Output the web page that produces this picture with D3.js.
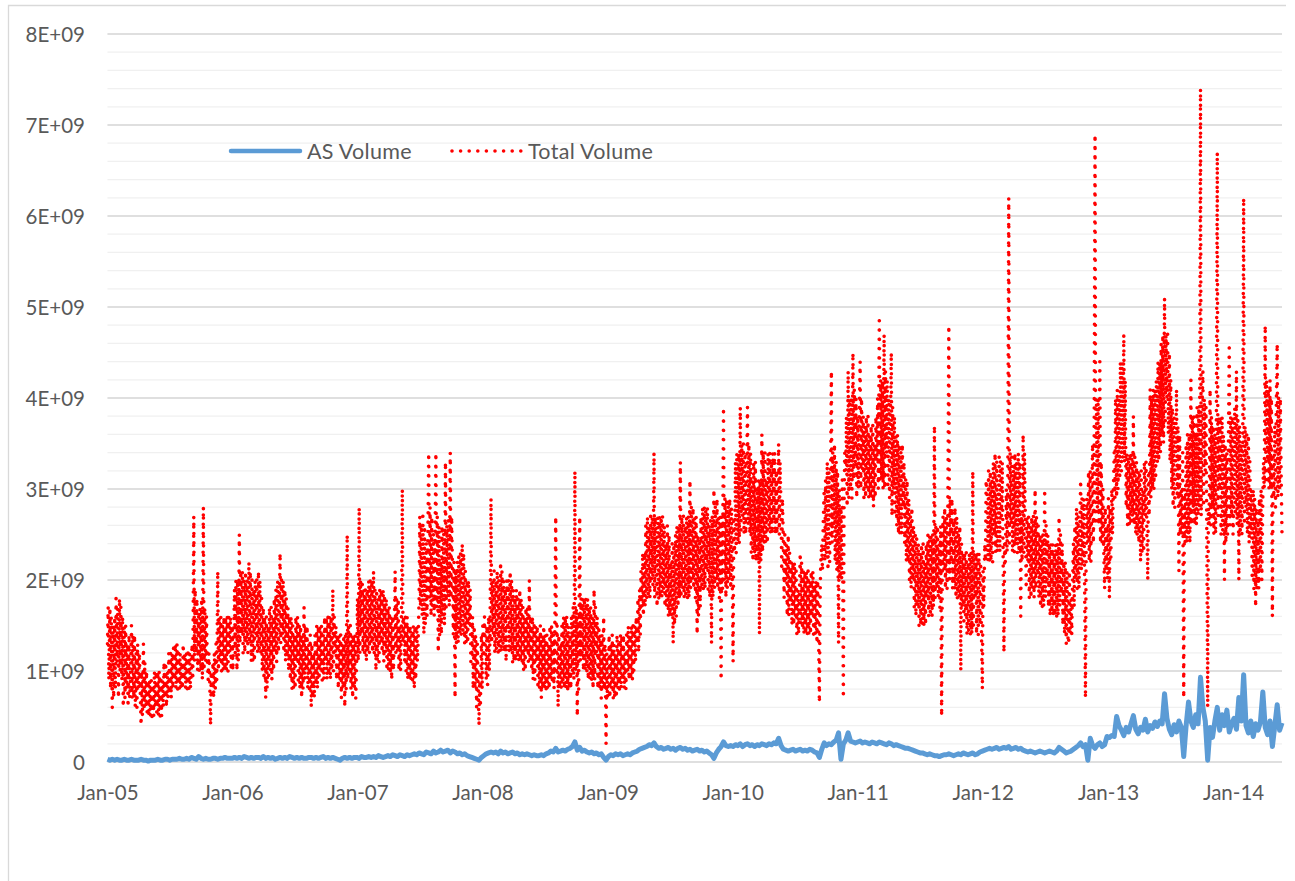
<!DOCTYPE html>
<html>
<head>
<meta charset="utf-8">
<script src="https://cdn.jsdelivr.net/npm/d3@7"></script>
<style>
  body { margin: 0; background: #ffffff; }
  svg { display: block; }
  .axis text { font-family: Lato, "Open Sans", sans-serif; font-size: 20.5px; fill: #595959; }
  .legend text { font-family: Lato, "Open Sans", sans-serif; font-size: 21.5px; letter-spacing: 0.3px; fill: #595959; }
</style>
</head>
<body>
<div id="chart"></div>
<script>
// samples: Monday, Wednesday, Friday of each week, Jan 2005 -> late May 2014
const firstWeek = new Date(2005, 0, 3);
const yTicks = [0, 1e9, 2e9, 3e9, 4e9, 5e9, 6e9, 7e9, 8e9];
const tickYears = [2005, 2006, 2007, 2008, 2009, 2010, 2011, 2012, 2013, 2014];
const seriesNames = ["AS Volume", "Total Volume"];

// Total Volume, units of 1E+08 -- Mondays
const totalMonE8 = [
  13, 17, 6, 16, 11, 18, 9, 15, 8, 14,
  15, 7, 12, 8, 4, 13, 6, 9, 5, 8,
  6, 10, 5, 9, 7, 10, 8, 12, 9, 13,
  8, 11, 9, 12, 8, 10, 27, 12, 16, 10,
  28, 11, 9, 4, 11, 8, 21, 11, 15, 10,
  16, 12, 15, 19, 10, 25, 14, 20, 13, 22,
  11, 19, 14, 21, 12, 17, 7, 15, 10, 16,
  12, 20, 23, 14, 19, 12, 16, 8, 14, 11,
  15, 7, 17, 10, 13, 6, 12, 9, 15, 10,
  14, 11, 16, 9, 19, 12, 14, 9, 13, 6,
  25, 10, 14, 8, 12, 28, 14, 19, 11, 20,
  13, 21, 10, 18, 13, 19, 12, 17, 10, 16,
  21, 12, 15, 30, 11, 16, 9, 14, 8, 15,
  18, 26, 14, 24, 34, 16, 25, 34, 12, 22,
  16, 33, 18, 34, 20, 7, 22, 14, 24, 13,
  20, 15, 12, 15, 6, 4, 14, 12, 9, 16,
  29, 14, 20, 12, 22, 13, 19, 15, 21, 11,
  18, 12, 19, 11, 16, 12, 20, 10, 15, 11,
  14, 7, 15, 8, 13, 9, 14, 27, 6, 13,
  9, 16, 8, 14, 10, 32, 5, 27, 12, 18,
  10, 17, 9, 19, 12, 15, 7, 16, 2, 10,
  13, 7, 12, 8, 14, 9, 12, 10, 14, 9,
  15, 13, 19, 17, 23, 18, 26, 20, 34, 22,
  18, 27, 19, 24, 16, 22, 13, 25, 17, 33,
  19, 26, 18, 31, 20, 27, 14, 24, 19, 28,
  21, 26, 13, 30, 20, 27, 9, 39, 18, 28,
  19, 11, 33, 24, 39, 27, 34, 39, 25, 31,
  23, 30, 14, 36, 24, 31, 26, 33, 27, 32,
  35, 28, 24, 20, 25, 18, 22, 16, 19, 23,
  15, 21, 14, 20, 16, 19, 13, 6.5, 24, 30,
  23, 32, 43, 26, 33, 13, 28, 7, 32, 43,
  30, 45, 33, 38, 44, 32, 37, 30, 36, 29,
  35, 33, 49, 31, 47, 34, 40, 45, 30, 36,
  25, 34, 28, 31, 22, 27, 20, 25, 17, 23,
  15, 22, 18, 25, 16, 37, 19, 24, 5, 21,
  27, 48, 22, 26, 18, 25, 10, 23, 16, 22,
  14, 32, 18, 23, 15, 8, 24, 29, 22, 31,
  25, 33, 34, 27, 12, 30, 62, 26, 32, 24,
  34, 16, 36, 25, 22, 26, 19, 30, 21, 25,
  17, 30, 20, 24, 17, 23, 16, 27, 19, 22,
  13, 13, 18, 24, 20, 27, 31, 22, 7, 24,
  32, 35, 69, 28, 44, 24, 19, 26, 18, 30,
  34, 29, 40, 32, 47, 28, 33, 26, 38, 25,
  32, 22, 30, 27, 20, 41, 30, 41, 33, 44,
  36, 51, 40, 45, 30, 38, 41, 21, 30, 7,
  35, 25, 42, 28, 36, 27, 74, 43, 32, 6,
  41, 28, 36, 67, 30, 38, 20, 34, 46, 27,
  30, 43, 20, 35, 62, 28, 36, 25, 30, 17,
  26, 21, 29, 48, 33, 42, 16, 37, 46, 30, 25
];

// Wednesdays
const totalWedE8 = [
  17, 8, 15, 8, 17, 10, 16, 7, 13, 7,
  7, 14, 6, 12, 10, 6, 10, 5, 9, 5,
  10, 5, 9, 6, 11, 7, 12, 8, 13, 8,
  12, 8, 12, 8, 12, 13, 11, 18, 10, 18,
  10, 16, 12, 10, 7, 13, 10, 16, 10, 16,
  10, 16, 10, 12, 20, 13, 21, 12, 20, 13,
  20, 11, 20, 12, 18, 9, 16, 9, 17, 10,
  19, 12, 13, 20, 11, 17, 9, 15, 8, 16,
  8, 14, 9, 15, 8, 13, 7, 15, 9, 15,
  9, 16, 10, 16, 10, 15, 8, 14, 8, 14,
  9, 15, 7, 14, 18, 12, 20, 12, 19, 12,
  20, 12, 19, 11, 19, 11, 18, 10, 16, 10,
  12, 18, 10, 13, 16, 9, 15, 9, 15, 11,
  27, 16, 26, 16, 18, 27, 16, 17, 26, 14,
  25, 17, 27, 18, 14, 21, 13, 23, 14, 21,
  13, 19, 16, 8, 13, 10, 8, 16, 15, 10,
  13, 21, 12, 20, 12, 20, 11, 20, 12, 19,
  11, 18, 11, 17, 10, 17, 11, 16, 9, 15,
  8, 14, 8, 14, 8, 15, 8, 10, 14, 8,
  16, 8, 15, 8, 17, 10, 16, 11, 18, 10,
  18, 9, 16, 9, 16, 8, 14, 8, 12, 14,
  8, 13, 7, 13, 8, 14, 8, 15, 9, 15,
  11, 18, 14, 23, 17, 27, 18, 27, 18, 17,
  27, 18, 26, 17, 25, 16, 24, 16, 26, 18,
  27, 18, 27, 19, 28, 18, 25, 17, 28, 19,
  28, 18, 27, 19, 29, 18, 27, 20, 29, 20,
  28, 27, 23, 34, 25, 35, 25, 26, 34, 22,
  33, 22, 31, 23, 34, 24, 34, 25, 34, 25,
  25, 21, 18, 24, 16, 22, 15, 21, 14, 15,
  21, 14, 21, 14, 21, 14, 20, 18, 21, 22,
  33, 22, 24, 35, 21, 30, 20, 28, 38, 29,
  40, 31, 40, 30, 30, 38, 29, 38, 29, 37,
  29, 40, 31, 42, 30, 42, 29, 27, 38, 26,
  35, 25, 33, 22, 29, 19, 26, 16, 24, 15,
  24, 15, 25, 16, 25, 18, 26, 17, 22, 28,
  19, 20, 29, 19, 27, 18, 24, 15, 23, 14,
  23, 15, 23, 14, 22, 21, 22, 22, 32, 22,
  34, 23, 23, 33, 24, 23, 24, 34, 23, 33,
  23, 27, 23, 19, 27, 18, 27, 19, 26, 17,
  25, 18, 25, 16, 24, 16, 24, 17, 24, 14,
  21, 21, 14, 17, 28, 19, 21, 29, 23, 32,
  22, 24, 26, 40, 24, 30, 28, 20, 28, 25,
  29, 41, 31, 44, 33, 34, 26, 34, 26, 33,
  24, 32, 23, 33, 32, 29, 41, 31, 44, 34,
  47, 37, 47, 33, 39, 28, 29, 36, 25, 30,
  24, 36, 26, 38, 26, 39, 27, 28, 39, 28,
  26, 37, 25, 27, 38, 25, 35, 25, 26, 38,
  39, 26, 37, 25, 26, 36, 24, 30, 19, 28,
  19, 30, 33, 31, 41, 30, 34, 28, 29, 40
];

// Fridays
const totalFriE8 = [
  9, 16, 7, 18, 7, 17, 6, 15, 6, 9,
  14, 6, 13, 9, 5, 11, 5, 9, 5, 10,
  5, 10, 5, 11, 6, 12, 7, 13, 8, 12,
  8, 13, 8, 12, 8, 9, 19, 10, 17, 9,
  17, 12, 10, 7, 12, 9, 16, 10, 16, 10,
  16, 10, 13, 20, 11, 21, 12, 21, 12, 21,
  11, 20, 12, 20, 10, 16, 8, 17, 9, 18,
  11, 15, 20, 12, 18, 10, 16, 8, 16, 9,
  15, 8, 15, 8, 14, 7, 14, 8, 15, 9,
  16, 9, 16, 10, 16, 9, 14, 7, 14, 8,
  15, 8, 14, 7, 11, 20, 12, 19, 12, 20,
  12, 19, 11, 19, 12, 18, 10, 17, 9, 13,
  18, 10, 14, 16, 10, 15, 9, 15, 9, 13,
  17, 27, 15, 22, 28, 17, 22, 27, 14, 26,
  15, 26, 17, 27, 22, 13, 23, 14, 23, 13,
  20, 11, 8, 14, 9, 6, 15, 13, 8, 14,
  20, 12, 21, 12, 21, 12, 20, 12, 20, 11,
  19, 11, 18, 10, 17, 11, 16, 9, 15, 8,
  15, 8, 14, 8, 15, 9, 13, 15, 8, 15,
  8, 16, 8, 16, 9, 17, 8, 18, 10, 18,
  9, 17, 8, 17, 8, 14, 8, 13, 7, 7,
  14, 7, 14, 8, 14, 8, 14, 9, 15, 10,
  16, 12, 21, 16, 26, 18, 27, 19, 27, 27,
  18, 27, 17, 26, 16, 24, 15, 26, 18, 27,
  18, 27, 18, 28, 19, 27, 16, 27, 19, 28,
  19, 27, 18, 28, 19, 27, 19, 29, 19, 29,
  22, 23, 34, 24, 35, 25, 30, 35, 23, 33,
  22, 31, 22, 34, 24, 34, 25, 34, 25, 29,
  33, 29, 25, 16, 23, 15, 22, 14, 17, 22,
  14, 21, 14, 21, 14, 20, 16, 22, 26, 31,
  21, 28, 34, 22, 32, 20, 31, 34, 28, 40,
  29, 41, 29, 37, 40, 29, 38, 29, 37, 28,
  38, 30, 42, 30, 43, 30, 36, 39, 27, 36,
  25, 35, 24, 31, 20, 28, 17, 25, 15, 24,
  15, 24, 16, 25, 17, 26, 18, 26, 27, 19,
  27, 29, 19, 28, 18, 26, 17, 23, 14, 23,
  14, 23, 14, 23, 15, 17, 31, 32, 22, 33,
  23, 27, 33, 25, 22, 28, 34, 23, 34, 23,
  33, 22, 34, 27, 18, 27, 18, 27, 18, 25,
  17, 26, 17, 24, 16, 24, 16, 25, 15, 22,
  14, 14, 19, 26, 19, 24, 29, 22, 29, 22,
  28, 30, 40, 26, 33, 24, 21, 29, 22, 29,
  40, 30, 44, 33, 42, 26, 34, 27, 34, 25,
  32, 23, 33, 26, 27, 40, 30, 42, 33, 46,
  35, 47, 36, 42, 28, 33, 37, 25, 34, 24,
  36, 24, 38, 26, 39, 28, 38, 40, 27, 26,
  38, 25, 34, 38, 25, 36, 24, 33, 38, 25,
  27, 38, 25, 32, 37, 25, 33, 20, 29, 19,
  29, 20, 30, 42, 30, 40, 29, 38, 40, 33
];

// AS Volume, units of 1E+07 -- Mondays
const asVolumeE7 = [
  3, 2, 3, 2, 3, 2, 2, 3, 2, 2,
  3, 2, 2, 2, 3, 2, 2, 1, 2, 2,
  2, 3, 2, 2, 3, 3, 2, 3, 3, 3,
  4, 3, 3, 4, 3, 5, 4, 3, 6, 4,
  3, 4, 3, 3, 4, 4, 3, 4, 4, 5,
  4, 4, 4, 5, 4, 5, 4, 6, 5, 4,
  5, 4, 5, 5, 4, 6, 4, 5, 4, 5,
  3, 4, 5, 4, 5, 4, 6, 5, 4, 5,
  4, 5, 4, 4, 5, 5, 4, 5, 4, 5,
  6, 4, 5, 4, 5, 4, 3, 2, 4, 5,
  4, 5, 4, 5, 5, 4, 6, 5, 5, 6,
  5, 6, 5, 7, 6, 5, 6, 7, 6, 8,
  7, 6, 8, 7, 6, 8, 7, 8, 9, 8,
  10, 9, 8, 11, 10, 9, 12, 10, 11, 13,
  11, 12, 13, 10, 12, 11, 9, 10, 8, 9,
  7, 6, 5, 4, 3, 2, 5, 7, 9, 10,
  11, 10, 11, 9, 12, 10, 11, 9, 10, 11,
  9, 10, 8, 9, 8, 9, 8, 7, 8, 7,
  7, 8, 7, 9, 10, 12, 11, 15, 11, 12,
  13, 12, 14, 15, 17, 22, 13, 16, 12, 13,
  11, 10, 11, 9, 10, 8, 9, 5, 2, 6,
  8, 7, 9, 8, 9, 7, 8, 9, 8, 10,
  11, 12, 14, 15, 16, 17, 19, 18, 21, 17,
  15, 16, 14, 15, 16, 14, 15, 13, 15, 16,
  14, 15, 13, 14, 12, 13, 14, 12, 13, 11,
  12, 10, 8, 4, 10, 14, 17, 22, 18, 17,
  18, 17, 19, 18, 20, 17, 19, 20, 18, 19,
  17, 19, 18, 20, 19, 18, 20, 19, 21, 20,
  26, 18, 14, 13, 12, 13, 14, 12, 13, 14,
  12, 13, 12, 14, 13, 11, 10, 5, 14, 21,
  18, 20, 19, 22, 24, 32, 3, 20, 24, 32,
  23, 22, 21, 22, 23, 21, 22, 21, 20, 22,
  21, 20, 22, 21, 20, 19, 21, 20, 18, 19,
  18, 17, 16, 15, 15, 14, 13, 12, 11, 10,
  10, 9, 8, 9, 8, 7, 7, 6, 7, 8,
  8, 9, 8, 7, 8, 9, 8, 10, 9, 8,
  9, 10, 8, 9, 11, 12, 13, 14, 15, 14,
  15, 16, 14, 15, 16, 15, 17, 14, 15, 16,
  14, 15, 13, 12, 11, 12, 11, 10, 11, 12,
  11, 10, 11, 12, 11, 10, 12, 16, 14, 12,
  10, 11, 12, 14, 16, 18, 21, 17, 19, 2,
  26, 18, 15, 19, 21, 17, 19, 28, 27, 29,
  28, 50, 40, 35, 29, 38, 33, 42, 51, 36,
  31, 38, 35, 47, 33, 40, 37, 44, 39, 45,
  42, 75, 48, 36, 30, 41, 33, 45, 38, 6,
  40, 66, 45, 38, 52, 42, 93, 60, 45, 2,
  38, 27, 45, 60, 35, 52, 40, 57, 33, 42,
  48, 36, 71, 45, 96, 40, 32, 45, 28, 42,
  35, 44, 77, 38, 30, 45, 17, 40, 63, 35, 43
];

const width = 1295, height = 881;
const margin = { top: 34, right: 13, bottom: 119, left: 107.5 };

const svg = d3.select("#chart").append("svg")
  .attr("width", width)
  .attr("height", height);

// chart frame (left + top edge visible)
svg.append("path")
  .attr("d", `M8.5,${height} V5.5 H1286`)
  .attr("fill", "none")
  .attr("stroke", "#d9d9d9")
  .attr("stroke-width", 1.3);

const totalData = [];
totalMonE8.forEach((v, i) => {
  const monday = d3.timeDay.offset(firstWeek, 7 * i);
  totalData.push({ date: monday, value: v * 1e8 });
  if (i < totalWedE8.length) {
    totalData.push({ date: d3.timeDay.offset(monday, 2), value: totalWedE8[i] * 1e8 });
    totalData.push({ date: d3.timeDay.offset(monday, 4), value: totalFriE8[i] * 1e8 });
  }
});

const asData = asVolumeE7.map((v, i) => ({
  date: d3.timeDay.offset(firstWeek, 7 * i),
  value: v * 1e7
}));

const x = d3.scaleTime()
  .domain(d3.extent(totalData, d => d.date))
  .range([margin.left, width - margin.right]);

const y = d3.scaleLinear()
  .domain([0, 8e9])
  .range([height - margin.bottom, margin.top]);

// gridlines: minor every 2E+08, major every 1E+09
svg.append("g")
  .selectAll("line")
  .data(d3.range(0, 8e9 + 1, 2e8))
  .enter()
  .append("line")
  .attr("x1", margin.left)
  .attr("x2", width - margin.right)
  .attr("y1", d => y(d))
  .attr("y2", d => y(d))
  .attr("stroke", "#f0f0f0")
  .attr("stroke-width", 1.3);

svg.append("g")
  .selectAll("line")
  .data(yTicks)
  .enter()
  .append("line")
  .attr("x1", margin.left)
  .attr("x2", width - margin.right)
  .attr("y1", d => y(d))
  .attr("y2", d => y(d))
  .attr("stroke", "#d9d9d9")
  .attr("stroke-width", 1.3);

const yAxis = d3.axisLeft(y)
  .tickValues(yTicks)
  .tickSize(0)
  .tickPadding(22.5)
  .tickFormat(d => d === 0 ? "0" : (d / 1e9) + "E+09");

svg.append("g")
  .attr("class", "axis")
  .attr("transform", `translate(${margin.left},0)`)
  .call(yAxis)
  .call(g => g.select(".domain").remove())
  .selectAll("text")
  .attr("dy", "0.37em");

const xAxis = d3.axisBottom(x)
  .tickValues(tickYears.map(yr => new Date(yr, 0, 3)))
  .tickSize(0)
  .tickPadding(23.5)
  .tickFormat(d3.timeFormat("%b-%y"));

svg.append("g")
  .attr("class", "axis")
  .attr("transform", `translate(0,${height - margin.bottom})`)
  .call(xAxis)
  .call(g => g.select(".domain").remove());

const line = d3.line()
  .x(d => x(d.date))
  .y(d => y(d.value));

svg.append("path")
  .datum(asData)
  .attr("d", line)
  .attr("fill", "none")
  .attr("stroke", "#5b9bd5")
  .attr("stroke-width", 5)
  .attr("stroke-linejoin", "round");

svg.append("path")
  .datum(totalData)
  .attr("d", line)
  .attr("fill", "none")
  .attr("stroke", "#ff0000")
  .attr("stroke-width", 3.6)
  .attr("stroke-linecap", "round")
  .attr("stroke-dasharray", "0 9.3");

// legend
const legend = svg.append("g").attr("class", "legend");

legend.append("line")
  .attr("x1", 231).attr("x2", 300)
  .attr("y1", 151).attr("y2", 151)
  .attr("stroke", "#5b9bd5")
  .attr("stroke-width", 4.5)
  .attr("stroke-linecap", "round");

legend.append("text")
  .attr("x", 307)
  .attr("y", 158.5)
  .text(seriesNames[0]);

legend.append("line")
  .attr("x1", 452).attr("x2", 521)
  .attr("y1", 151).attr("y2", 151)
  .attr("stroke", "#ff0000")
  .attr("stroke-width", 3.6)
  .attr("stroke-linecap", "round")
  .attr("stroke-dasharray", "0 8.6");

legend.append("text")
  .attr("x", 528)
  .attr("y", 158.5)
  .text(seriesNames[1]);
</script>
</body>
</html>
